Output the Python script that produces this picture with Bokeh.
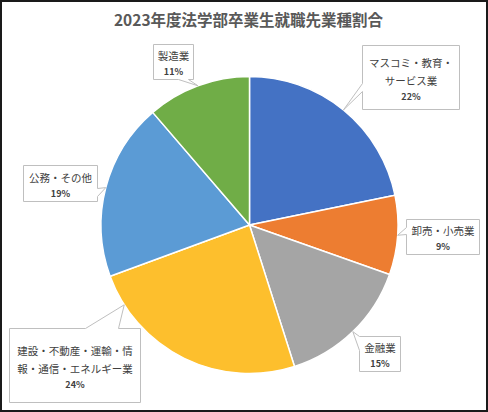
import math
from bokeh.plotting import figure
from bokeh.models import ColumnDataSource, Range1d
from bokeh.core.properties import value
from bokeh.embed import file_html
from bokeh.resources import INLINE

# ---------------- data ----------------
title = "2023年度法学部卒業生就職先業種割合"
categories = ["マスコミ・教育・サービス業", "卸売・小売業", "金融業",
              "建設・不動産・運輸・情報・通信・エネルギー業", "公務・その他", "製造業"]
label_lines = [["マスコミ・教育・", "サービス業"], ["卸売・小売業"], ["金融業"],
               ["建設・不動産・運輸・情", "報・通信・エネルギー業"], ["公務・その他"], ["製造業"]]
shares = [21.8, 8.6, 14.7, 24.3, 19.3, 11.3]
colors = ["#4472C4", "#ED7D31", "#A5A5A5", "#FDBF2D", "#5B9BD5", "#70AD47"]

# ---------------- layout (window pixel coords) ----------------
FIG_W, FIG_H = 488, 412
CX, CY, R = 249, 224.5, 148.5
# callout boxes: left, top, right, bottom
boxes = [(362, 45, 459, 109), (406, 219, 479, 254), (359, 336, 400, 371),
         (9, 328, 140, 402), (23, 165, 97, 201), (153, 44, 193, 79)]
# pointer: side, base a, base b, angle override (deg from north clockwise) or None
pointers = [("left", 83, 91, None), ("left", 227, 234, None), ("left", 336, 350, None),
            ("top", 85, 118, 237.5), ("right", 188, 196, None), ("bottom", 178, 188, None)]

FONT = "Noto Sans CJK JP"


def Y(y):
    return FIG_H - y


p = figure(width=FIG_W, height=FIG_H, output_backend="svg", toolbar_location=None,
           x_range=Range1d(0, FIG_W), y_range=Range1d(0, FIG_H),
           x_axis_location=None, y_axis_location=None, min_border=0,
           background_fill_color="white", border_fill_color="white")
p.grid.visible = False
p.outline_line_color = "#1A1A1A"
p.outline_line_width = 3

# ---------------- pie ----------------
total = sum(shares)
starts, ends, mids = [], [], []
c = 0.0
for s in shares:
    c0, c1 = c / total, (c + s) / total
    starts.append(math.pi / 2 - 2 * math.pi * c1)
    ends.append(math.pi / 2 - 2 * math.pi * c0)
    mids.append(360 * (c0 + c1) / 2)
    c += s

src = ColumnDataSource(dict(x=[CX] * len(shares), y=[Y(CY)] * len(shares), r=[R] * len(shares),
                            start=starts, end=ends, color=colors))
p.wedge(x="x", y="y", radius="r", start_angle="start", end_angle="end", direction="anticlock",
        fill_color="color", line_color="white", line_width=1.5, source=src)

# ---------------- callouts ----------------
for i, (box, ptr) in enumerate(zip(boxes, pointers)):
    l, t, r_, b = box
    side, a1, a2, ang = ptr
    ang = mids[i] if ang is None else ang
    tx = CX + R * math.sin(math.radians(ang))
    ty = CY - R * math.cos(math.radians(ang))
    pts = [(l, t)]
    if side == "top":
        pts += [(a1, t), (tx, ty), (a2, t)]
    pts.append((r_, t))
    if side == "right":
        pts += [(r_, a1), (tx, ty), (r_, a2)]
    pts.append((r_, b))
    if side == "bottom":
        pts += [(a2, b), (tx, ty), (a1, b)]
    pts.append((l, b))
    if side == "left":
        pts += [(l, a2), (tx, ty), (l, a1)]
    p.patch([q[0] for q in pts], [Y(q[1]) for q in pts], fill_color="white",
            line_color="#BFBFBF", line_width=1)

    lines = label_lines[i]
    pct = f"{round(shares[i] / total * 100)}%"
    n = len(lines)
    stack = (n - 1) * 18 + 16
    cy = (t + b) / 2 + 1.5
    y0 = cy - stack / 2
    xs = (l + r_) / 2
    ys = [y0 + k * 18 for k in range(n)]
    p.text(x=[xs] * n, y=[Y(v) for v in ys], text=lines, text_font=value(FONT),
           text_font_size=value("10.5px"), text_color="#404040",
           text_align="center", text_baseline="middle")
    p.text(x=[xs], y=[Y(ys[-1] + 16)], text=[pct], text_font=value(FONT),
           text_font_size=value("9px"), text_font_style="bold", text_color="#404040",
           text_align="center", text_baseline="middle")

# ---------------- title ----------------
p.text(x=[248], y=[Y(18.5)], text=[title], text_font=value(FONT), text_font_size=value("15.5px"),
       text_font_style="bold", text_color="#595959", text_align="center", text_baseline="middle")

open("out.html", "w").write(file_html(p, INLINE))
